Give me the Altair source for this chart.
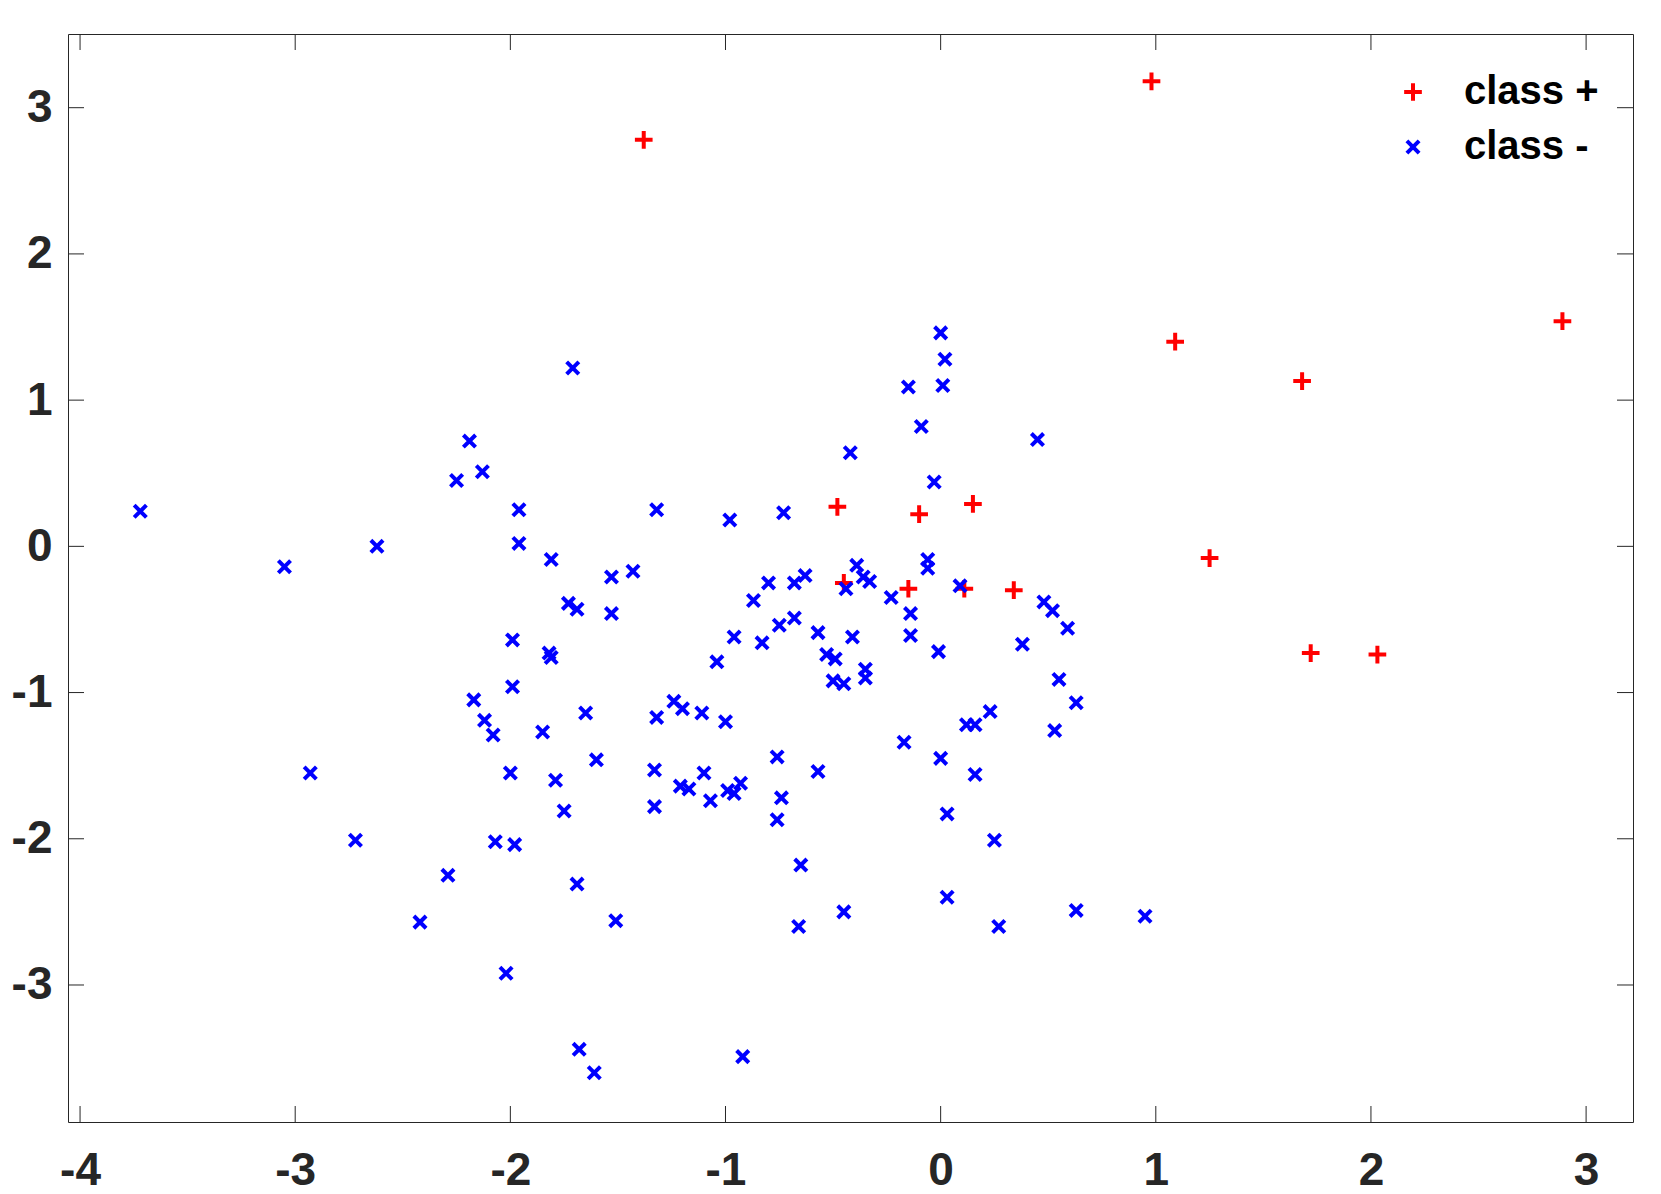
import altair as alt
import pandas as pd

# ---- data ----
pos_x = [-1.38, 0.98, 1.09, 1.68, 2.89, -0.48, -0.10, 0.15, 1.25, -0.45, -0.15, 0.11, 0.34, 1.72, 2.03]
pos_y = [2.78, 3.18, 1.40, 1.13, 1.54, 0.27, 0.22, 0.29, -0.08, -0.25, -0.29, -0.29, -0.30, -0.73, -0.74]

neg_x = [-3.72, -3.05, -2.62, -2.93, -2.72, -2.29, -2.42, -2.02, -1.71, -2.19,
         -2.13, -2.25, -1.96, -1.96, -1.81, -1.99, -1.99, -2.17, -2.12, -2.08,
         -1.82, -1.81, -1.73, -1.69, -1.85, -1.65, -1.79, -1.75, -2.00, -2.07,
         -1.98, -1.69, -1.51, -1.68, -1.61, -1.53, -1.53, -1.43, -1.32, -1.60,
         -1.32, -1.33, -1.33, -1.24, -1.20, -1.11, -1.21, -1.17, -1.10, -1.07,
         -1.00, -1.04, -0.98, -0.96, -0.99, -0.96, -0.93, -0.92, -0.87, -0.83,
         -0.80, -0.76, -0.76, -0.74, -0.73, -0.75, -0.68, -0.68, -0.63, -0.65,
         -0.66, -0.57, -0.57, -0.53, -0.50, -0.49, -0.44, -0.45, -0.45, -0.42,
         -0.41, -0.39, -0.36, -0.33, -0.35, -0.35, -0.23, -0.15, -0.14, -0.14,
         -0.17, -0.09, -0.06, -0.06, -0.03, 0.00, 0.02, 0.01, -0.01, 0.00,
         0.03, 0.03, 0.09, 0.12, 0.16, 0.16, 0.23, 0.25, 0.27, 0.38,
         0.45, 0.48, 0.52, 0.55, 0.53, 0.59, 0.63, 0.63, 0.95]
neg_y = [0.24, -0.14, 0.00, -1.55, -2.01, -2.25, -2.57, -2.92, 1.22, 0.72,
         0.51, 0.45, 0.25, 0.02, -0.09, -0.64, -0.96, -1.05, -1.19, -1.29,
         -0.73, -0.76, -0.39, -0.43, -1.27, -1.14, -1.60, -1.81, -1.55, -2.02,
         -2.04, -2.31, -2.56, -3.44, -3.60, -0.21, -0.46, -0.17, 0.25, -1.46,
         -1.17, -1.53, -1.78, -1.06, -1.11, -1.14, -1.64, -1.66, -1.55, -1.74,
         -1.20, -0.79, 0.18, -0.62, -1.67, -1.69, -1.62, -3.49, -0.37, -0.66,
         -0.25, -1.44, -1.87, -1.72, 0.23, -0.54, -0.25, -0.49, -0.20, -2.18,
         -2.60, -0.59, -1.54, -0.74, -0.92, -0.77, -0.29, -0.94, -2.50, 0.64,
         -0.62, -0.13, -0.21, -0.24, -0.84, -0.90, -0.35, 1.09, -0.46, -0.61,
         -1.34, 0.82, -0.15, -0.09, 0.44, 1.46, 1.28, 1.10, -0.72, -1.45,
         -1.83, -2.40, -0.27, -1.22, -1.22, -1.56, -1.13, -2.01, -2.60, -0.67,
         0.73, -0.38, -0.44, -0.91, -1.26, -0.56, -1.07, -2.49, -2.53]

classes = ["class +", "class -"]
class_colors = ["#ff0000", "#0000ff"]
x_ticks = [-4, -3, -2, -1, 0, 1, 2, 3]
y_ticks = [-3, -2, -1, 0, 1, 2, 3]
x_domain = [-4.056, 3.218]
y_domain = [-3.937, 3.504]

plus_path = "M-1,0L1,0M0,-1L0,1"
x_path = "M-0.69,-0.69L0.69,0.69M-0.69,0.69L0.69,-0.69"

df = pd.DataFrame({
    "x": pos_x + neg_x,
    "y": pos_y + neg_y,
    "cls": [classes[0]] * len(pos_x) + [classes[1]] * len(neg_x),
})
df_tx = pd.DataFrame({"x": x_ticks})
df_ty = pd.DataFrame({"y": y_ticks})

W, H = 1565, 1088
TICK = 16
AX = "#262626"
FONT = "Liberation Sans"

xscale = alt.Scale(domain=x_domain, nice=False, zero=False)
yscale = alt.Scale(domain=y_domain, nice=False, zero=False)

legend = alt.Legend(
    orient="none", legendX=1325, legendY=38, title=None,
    labelFont=FONT, labelFontSize=40, labelFontWeight="bold", labelColor="#000000",
    symbolSize=313, symbolStrokeWidth=4, labelOffset=31, rowPadding=15, padding=0,
)

axis_common = dict(title=None, grid=False, ticks=False, domain=False,
                   labelFlush=False, labelOverlap=False,
                   labelFont=FONT, labelFontSize=46, labelFontWeight="bold", labelColor=AX,
                   labelExpr="toString(datum.value)")
xaxis = alt.Axis(values=x_ticks, labelPadding=26, **axis_common)
yaxis = alt.Axis(values=y_ticks, labelPadding=16, **axis_common)

points = alt.Chart(df).mark_point(filled=False, strokeWidth=4, size=313, opacity=1).encode(
    x=alt.X("x:Q", scale=xscale, axis=xaxis),
    y=alt.Y("y:Q", scale=yscale, axis=yaxis),
    color=alt.Color("cls:N", scale=alt.Scale(domain=classes, range=class_colors), legend=legend),
    shape=alt.Shape("cls:N", scale=alt.Scale(domain=classes, range=[plus_path, x_path]), legend=legend),
)

tx_bottom = alt.Chart(df_tx).mark_rule(color=AX, strokeWidth=1).encode(
    x=alt.X("x:Q", scale=xscale, axis=xaxis), y=alt.value(H), y2=alt.value(H - TICK))
tx_top = alt.Chart(df_tx).mark_rule(color=AX, strokeWidth=1).encode(
    x=alt.X("x:Q", scale=xscale, axis=xaxis), y=alt.value(0), y2=alt.value(TICK))
ty_left = alt.Chart(df_ty).mark_rule(color=AX, strokeWidth=1).encode(
    y=alt.Y("y:Q", scale=yscale, axis=yaxis), x=alt.value(0), x2=alt.value(TICK))
ty_right = alt.Chart(df_ty).mark_rule(color=AX, strokeWidth=1).encode(
    y=alt.Y("y:Q", scale=yscale, axis=yaxis), x=alt.value(W), x2=alt.value(W - TICK))

chart = alt.layer(points, tx_bottom, tx_top, ty_left, ty_right).properties(
    width=W, height=H,
    autosize=alt.AutoSizeParams(type="none"),
    padding={"left": 60, "top": 26, "right": 20, "bottom": 72},
    background="white",
).configure_view(
    stroke=AX, strokeWidth=1
)

chart.save("out.html", embed_options={"renderer": "svg", "actions": False})
